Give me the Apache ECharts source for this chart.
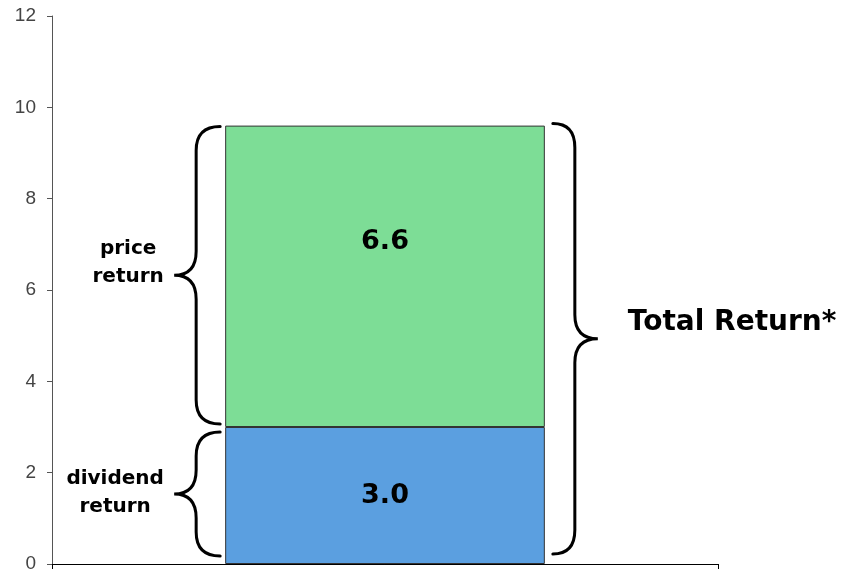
<!DOCTYPE html>
<html>
<head>
<meta charset="utf-8">
<script src="https://cdn.jsdelivr.net/npm/echarts@6/dist/echarts.min.js"></script>
<style>
  html, body { margin: 0; padding: 0; background: #fff; }
  #chart { width: 842px; height: 570px; }
</style>
</head>
<body>
<div id="chart"></div>
<script>
// Return components (stacked)
const categories = ['Return'];
const dividendReturn = [3.0];
const priceReturn = [6.6];
const yAxisMin = 0;
const yAxisMax = 12;
const yAxisStep = 2;

const BAR_WIDTH_RATIO = 0.48;
const BOLD = '"DejaVu Sans", sans-serif';

const totalReturn = dividendReturn.map((d, i) => d + priceReturn[i]);

// Brace spans in value units: [categoryIndex, from, to, which]
const braceData = [
  [0, dividendReturn[0], totalReturn[0], 0],
  [0, 0, dividendReturn[0], 1],
  [0, 0, totalReturn[0], 2]
];

// Pixel styling per brace: side, top/bottom insets, text and its placement
const braceStyle = [
  { side: 'left', insetTop: 1, insetBottom: 3, text: 'price\nreturn', font: 'bold 20px ' + BOLD, dx: -46, dy: -13, align: 'center' },
  { side: 'left', insetTop: 5, insetBottom: 8, text: 'dividend\nreturn', font: 'bold 20px ' + BOLD, dx: -59, dy: -1, align: 'center' },
  { side: 'right', insetTop: -2, insetBottom: 10, text: 'Total Return*', font: 'bold 28px ' + BOLD, dx: 30, dy: -16, align: 'left' }
];

function bracePath(side, top, bot, barEdge) {
  const mid = (top + bot) / 2;
  const s = side === 'left' ? -1 : 1;
  const xe = barEdge + s * (side === 'left' ? 5 : 8); // tips near the bar
  const xv = barEdge + s * (side === 'left' ? 29 : 30); // straight spine
  const xp = barEdge + s * (side === 'left' ? 51 : 53); // pointed centre
  const r = Math.min(24, (bot - top) / 4);
  const r2 = Math.min(24, (bot - top) / 4);
  return [
    'M', xe, top,
    'Q', xv, top, xv, top + r,
    'L', xv, mid - r2,
    'Q', xv, mid, xp, mid,
    'Q', xv, mid, xv, mid + r2,
    'L', xv, bot - r,
    'Q', xv, bot, xe, bot
  ].join(' ');
}

function renderBrace(params, api) {
  const cat = api.value(0);
  const p0 = api.coord([cat, api.value(1)]);
  const p1 = api.coord([cat, api.value(2)]);
  const st = braceStyle[api.value(3)];
  const band = api.size([1, 0])[0];
  const half = band * BAR_WIDTH_RATIO / 2;
  const edge = st.side === 'left' ? p0[0] - half : p0[0] + half;
  const top = p1[1] + st.insetTop;
  const bot = p0[1] - st.insetBottom;
  const mid = (top + bot) / 2;
  const xp = st.side === 'left' ? edge - 51 : edge + 53;
  return {
    type: 'group',
    children: [
      {
        type: 'path',
        shape: { pathData: bracePath(st.side, top, bot, edge) },
        style: { stroke: '#000', lineWidth: 3, fill: null, lineCap: 'round' }
      },
      {
        type: 'text',
        style: {
          text: st.text,
          x: xp + st.dx,
          y: mid + st.dy,
          font: st.font,
          fill: '#000',
          align: st.align,
          verticalAlign: 'middle',
          lineHeight: 28
        }
      }
    ]
  };
}

const chart = echarts.init(document.getElementById('chart'), null, { renderer: 'canvas' });

chart.setOption({
  animation: false,
  backgroundColor: '#fff',
  grid: { left: 52, right: 124, top: 16, bottom: 6, containLabel: false, outerBoundsMode: 'none' },
  xAxis: {
    type: 'category',
    data: categories,
    axisLine: { show: true, lineStyle: { color: '#000', width: 1 } },
    axisTick: { show: true, length: 5, lineStyle: { color: '#000' } },
    axisLabel: { show: false },
    splitLine: { show: false }
  },
  yAxis: {
    type: 'value',
    min: yAxisMin,
    max: yAxisMax,
    interval: yAxisStep,
    axisLine: { show: true, lineStyle: { color: '#555', width: 1 } },
    axisTick: { show: true, length: 5, lineStyle: { color: '#555' } },
    axisLabel: {
      margin: 16,
      color: '#444',
      fontSize: 19,
      fontFamily: '"Liberation Sans", Arial, sans-serif'
    },
    splitLine: { show: false }
  },
  series: [
    {
      name: 'dividend return',
      type: 'bar',
      stack: 'total',
      barWidth: (BAR_WIDTH_RATIO * 100) + '%',
      data: dividendReturn,
      itemStyle: { color: '#5B9FE0', borderColor: '#333', borderWidth: 1 },
      label: {
        show: true,
        position: 'inside',
        formatter: p => p.value.toFixed(1),
        color: '#000',
        fontSize: 27,
        fontWeight: 'bold',
        fontFamily: BOLD
      }
    },
    {
      name: 'price return',
      type: 'bar',
      stack: 'total',
      data: priceReturn,
      itemStyle: { color: '#7DDD96', borderColor: '#333', borderWidth: 1 },
      label: {
        show: true,
        position: ['50%', '38.6%'],
        align: 'center',
        verticalAlign: 'middle',
        formatter: p => p.value.toFixed(1),
        color: '#000',
        fontSize: 27,
        fontWeight: 'bold',
        fontFamily: BOLD
      }
    },
    {
      type: 'custom',
      clip: false,
      silent: true,
      renderItem: renderBrace,
      encode: { x: 0, y: [1, 2] },
      data: braceData,
      z: 5
    }
  ]
});
</script>
</body>
</html>
